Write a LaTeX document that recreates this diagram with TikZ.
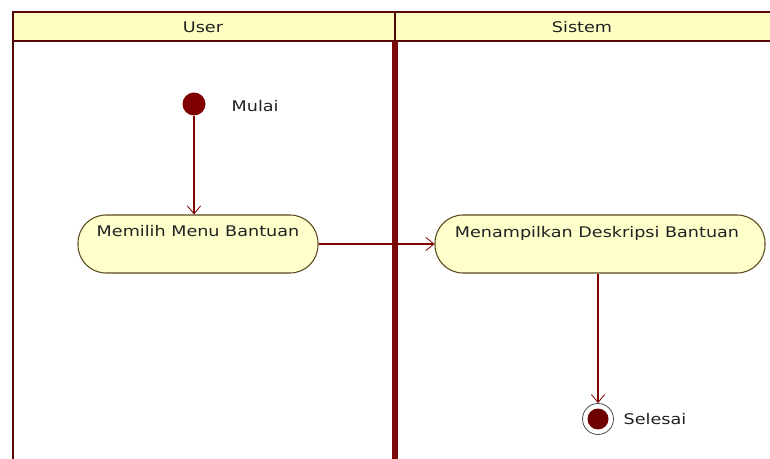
\documentclass[tikz,border=0pt]{standalone}
\usepackage{fontspec}
\setmainfont{DejaVu Sans}
\newfontfamily\lblfont[FakeStretch=1.2]{DejaVu Sans}
\usetikzlibrary{arrows.meta}
\definecolor{lanered}{HTML}{7A0A0A}
\definecolor{hdrfill}{HTML}{FFFFC4}
\definecolor{actfill}{HTML}{FFFFCC}
\definecolor{actdraw}{HTML}{5A4A20}
\definecolor{flow}{HTML}{800000}
\definecolor{txt}{HTML}{222222}
\tikzset{
  act/.style={draw=actdraw, fill=actfill, line width=0.8pt, rounded corners=21pt, minimum height=58*0.75pt, inner sep=0pt},
  flowline/.style={draw=flow, line width=0.8pt, -{Straight Barb[length=6pt,width=10pt,line width=0.6pt]}},
  lbl/.style={font=\lblfont\fontsize{11}{13}\selectfont, text=txt},
}
\begin{document}
\begin{tikzpicture}[x=0.75pt,y=-0.75pt]
\useasboundingbox (0,0) rectangle (770,459);
\fill[white] (0,0) rectangle (770,459);
% header
\fill[hdrfill] (13,12) rectangle (775,41);
\draw[lanered!70!black, line width=1.5pt] (775,12) -- (13,12) -- (13,465);
\draw[lanered!70!black, line width=1.5pt] (13,41) -- (775,41);
\draw[lanered!70!black, line width=1.2pt] (395,12) -- (395,41);
\draw[lanered, line width=4pt] (395,41) -- (395,465);
\node[lbl] (hu) at (203,27) {User};
\node[lbl] (hs) at (582,27) {Sistem};
% start
\node[circle, fill=flow, minimum size=23*0.75pt, inner sep=0pt] (start) at (194,104) {};
\node[lbl, anchor=west] (mulai) at (227,106) {Mulai};
% activities
\node[act, minimum width=240*0.75pt] (a1) at (198,244) {};
\node[lbl] (t1) at (198,231) {Memilih Menu Bantuan};
\node[act, minimum width=330*0.75pt] (a2) at (600,244) {};
\node[lbl] (t2) at (597,233) {Menampilkan Deskripsi Bantuan};
% end
\node[circle, draw=black!70, fill=white, line width=0.6pt, minimum size=31*0.75pt, inner sep=0pt] (end) at (598,419) {};
\node[circle, fill=flow!85!black, minimum size=21*0.75pt, inner sep=0pt] (endin) at (598,419) {};
\node[lbl, anchor=west] (selesai) at (619,419) {Selesai};
% flows
\draw[flowline] (start) -- (start |- a1.north);
\draw[flowline] (a1) -- (a2);
\draw[flowline] (a2.south -| end) -- (end);
\end{tikzpicture}
\end{document}
